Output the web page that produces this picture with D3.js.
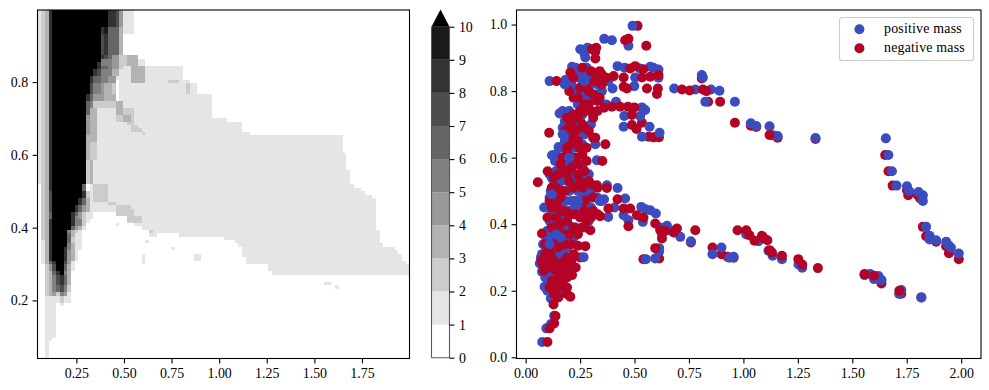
<!DOCTYPE html>
<html>
<head>
<meta charset="utf-8">
<script src="https://cdn.jsdelivr.net/npm/d3@7"></script>
<style>
  body { margin: 0; background: #fff; }
  text { font-family: "Liberation Serif", serif; fill: #000; }
</style>
</head>
<body>
<svg id="chart" width="989" height="390"></svg>
<script>
//colorbar steps, value band i..i+1 and the "over" colour at the end
const levelColors = ["#ffffff", "#e5e5e5", "#cccccc", "#b3b3b3", "#999999", "#808080", "#666666", "#4d4d4d", "#333333", "#1a1a1a", "#000000"];
const colorbarTicks = [0, 1, 2, 3, 4, 5, 6, 7, 8, 9, 10];
const heatXTicks = [0.25, 0.5, 0.75, 1, 1.25, 1.5, 1.75];
const heatYTicks = [0.2, 0.4, 0.6, 0.8];
const scatterXTicks = [0, 0.25, 0.5, 0.75, 1, 1.25, 1.5, 1.75, 2];
const scatterYTicks = [0, 0.2, 0.4, 0.6, 0.8, 1];
const legendLabels = ["positive mass", "negative mass"];

// heatmap rows from the top, 100 x 100 cells: [rows it repeats, level, cells, level, cells, ...]
const heatRuns = [
  [5, 1,1,2,1,3,1,8,1, 10,15, 8,2, 7,1, 4,1, 1,3],
  [2, 1,1,2,1,3,1,8,1, 10,13, 8,1, 9,1, 6,3, 3,1, 1,3],
  [6, 1,1,2,1,3,1,8,1, 10,13, 7,1, 8,1, 6,3, 3,1],
  [1, 1,1,2,1,3,1,8,1, 10,13, 8,1, 7,1, 6,1, 4,2, 2,2, 3,3],
  [1, 1,1,2,1,3,1,8,1, 10,13, 5,3, 4,2, 2,2, 3,3, 1,2],
  [1, 1,1,2,1,3,1,8,1, 10,12, 8,1, 5,3, 4,2, 2,2, 3,3, 1,2],
  [1, 1,1,2,1,3,1,8,1, 10,12, 8,1, 6,2, 5,1, 4,2, 2,1, 1,2, 3,4, 1,10],
  [2, 1,1,2,1,3,1,8,1, 10,11, 8,1, 7,1, 5,3, 3,2, 1,3, 3,4, 1,10],
  [1, 1,1,2,1,3,1,8,1, 10,10, 8,1, 6,2, 5,2, 4,2, 1,4, 3,4, 1,10],
  [1, 1,1,2,1,3,1,8,1, 10,10, 8,1, 6,2, 5,2, 4,2, 0,1, 1,3, 3,4, 1,6, 2,3, 1,3],
  [3, 1,1,2,1,3,1,8,1, 10,10, 7,1, 5,2, 4,1, 3,2, 2,1, 0,1, 1,18, 2,1, 1,2],
  [2, 1,1,2,1,3,1,8,1, 10,9, 8,1, 6,1, 4,3, 3,3, 0,1, 1,25],
  [2, 1,1,2,1,3,1,8,1, 10,9, 6,1, 5,1, 2,6, 3,2, 1,24],
  [2, 1,1,2,1,3,1,8,1, 10,9, 6,1, 3,2, 1,5, 3,2, 2,3, 1,21],
  [1, 1,1,2,1,3,1,8,1, 10,9, 4,1, 3,2, 1,5, 2,2, 3,2, 2,1, 1,21],
  [1, 1,1,2,1,3,1,8,1, 10,9, 4,1, 3,2, 1,5, 2,2, 3,2, 2,1, 1,25],
  [1, 1,1,2,1,3,1,8,1, 10,9, 4,1, 3,2, 1,8, 2,2, 1,29],
  [1, 1,1,2,1,3,1,8,1, 10,9, 4,1, 3,2, 1,9, 2,2, 1,28],
  [1, 1,1,2,1,3,1,8,1, 10,9, 4,1, 3,2, 1,9, 2,3, 1,27],
  [1, 1,1,2,1,3,1,8,1, 10,9, 4,1, 3,2, 1,12, 2,1, 1,28],
  [2, 1,1,2,1,3,1,8,1, 10,9, 3,1, 3,2, 1,66],
  [3, 1,1,2,1,3,1,8,1, 10,9, 3,1, 2,2, 1,66],
  [2, 1,1,2,1,3,1,8,1, 10,9, 3,1, 2,2, 1,67],
  [3, 1,1,2,1,3,1,8,1, 10,9, 2,1, 3,1, 1,68],
  [4, 1,1,2,1,3,1,8,1, 10,9, 2,1, 3,1, 1,69],
  [1, 0,1,2,1,3,1,8,1, 10,8, 6,1, 0,1, 1,1, 2,4, 1,66],
  [1, 0,1,2,1,3,1,8,1, 10,8, 6,1, 0,1, 1,1, 2,4, 1,68],
  [1, 0,1,2,1,3,1,7,1, 10,8, 8,1, 2,1, 1,1, 2,4, 1,69],
  [1, 0,1,2,1,3,1,7,1, 10,8, 8,1, 2,1, 1,1, 2,4, 1,71],
  [1, 0,1,2,1,3,1,7,1, 10,7, 8,1, 6,1, 3,1, 1,1, 2,4, 1,72],
  [1, 0,1,2,1,3,1,7,1, 10,7, 8,1, 6,1, 3,1, 1,5, 2,2, 1,70],
  [1, 0,1,2,1,3,1,7,1, 10,6, 8,1, 6,1, 4,1, 3,1, 1,7, 2,4, 1,66],
  [1, 0,1,2,1,3,1,7,1, 10,6, 8,1, 6,1, 4,1, 3,1, 1,7, 2,5, 1,65],
  [1, 0,1,2,1,3,1,6,1, 10,5, 8,1, 6,1, 4,1, 2,1, 1,2, 0,6, 2,5, 1,65],
  [1, 0,1,2,1,3,1,6,1, 10,5, 8,1, 5,1, 4,1, 2,1, 1,2, 0,9, 2,4, 1,63],
  [1, 0,1,2,1,3,1,8,1, 10,5, 8,1, 5,2, 2,1, 1,1, 0,10, 2,4, 1,63],
  [1, 0,1,2,1,3,1,8,1, 10,5, 8,1, 5,2, 2,1, 0,13, 1,65],
  [1, 0,1,2,1,3,1,8,1, 10,5, 6,1, 4,1, 3,1, 1,1, 0,15, 1,63],
  [1, 0,1,2,1,3,1,8,1, 10,4, 5,1, 3,1, 2,1, 1,1, 0,18, 1,62],
  [1, 0,1,2,1,3,1,8,1, 10,4, 6,1, 3,1, 1,2, 0,18, 1,2, 0,6, 1,54],
  [1, 0,1,2,1,3,1,8,1, 10,4, 6,1, 2,1, 1,2, 0,38, 1,42],
  [1, 0,1,1,1,3,1,8,1, 10,4, 6,1, 2,1, 1,2, 0,41, 1,39],
  [1, 0,1,1,1,3,1,8,1, 10,4, 5,1, 3,1, 1,2, 0,42, 1,39],
  [1, 0,1,1,1,3,1,8,1, 10,3, 8,1, 5,1, 3,1, 1,2, 0,43, 1,41],
  [1, 0,1,1,1,3,1,8,1, 10,3, 8,1, 4,1, 3,1, 1,1, 0,44, 1,42],
  [1, 0,1,1,1,3,1,8,1, 10,3, 8,1, 4,1, 3,1, 1,1, 0,44, 1,43],
  [1, 0,1,1,1,3,1,8,1, 10,3, 8,1, 4,1, 3,1, 1,1, 0,45, 1,42],
  [1, 0,1,1,1,3,1,6,1, 8,1, 10,2, 7,1, 4,1, 1,1, 0,46, 1,43],
  [2, 0,2,2,1,4,1,7,1, 10,2, 6,1, 3,1, 1,1, 0,52, 1,38],
  [1, 0,2,2,1,3,1,6,1, 8,1, 10,1, 5,1, 3,1, 0,54, 1,37],
  [3, 0,2,2,1,3,1,5,1, 7,1, 8,1, 6,1, 3,1],
  [2, 0,2,2,1,3,1,5,1, 6,1, 7,1, 5,1, 2,1],
  [1, 0,2,2,1,3,1,4,1, 2,1, 5,1, 4,1, 1,1],
  [2, 0,2,1,4,2,1,1,1,1,1],
  [1, 0,2,1,3,0,1,1,1],
  [9, 0,2,1,3],
  [1, 0,2,1,2],
  [5, 0,2,1,1]
];
// odd single spots in the heatmap: [row, column, cells, level]
const heatSpots = [[61,21,1,1],[63,30,1,2],[66,29,1,1],[68,36,1,1],[70,28,1,1],[71,28,1,1],[72,28,1,1],[70,42,2,1],[71,42,2,1],[78,77,2,1],[79,80,1,1]];

// scatter points, [x, y]. four lists because the colours overlap both ways
const negativeBack = [
  [.961,.705],[1.034,.696],[1.059,.692],[1.157,.66],[1.331,.656],[1.651,.608],[1.666,.559],[1.685,.516],[1.751,.502],[1.801,.487],[1.757,.487],[1.812,.477],
  [1.824,.392],[1.839,.364],[1.885,.347],[1.931,.334],[1.944,.313],[1.989,.295],[.955,.299],[1.725,.191],[1.817,.18],[1.634,.222],[1.62,.237],
  [.514,.996],[.809,.838],[.838,.768],[.893,.768],[.612,.661],[.587,.661],[.564,.663],[.509,.686],[.534,.705],[.613,.297],[.541,.295],[.759,.345],[.858,.33],[.899,.31],[.927,.302],
  [.22,.78],[.25,.8],[.29,.84],[.24,.7],[.19,.66],[.15,.47],[.12,.36],[.17,.29],[.23,.47],[.28,.49]
];
const positive = [
  [.961,.768],[1.034,.703],[1.059,.695],[1.12,.694],[1.135,.667],[1.157,.665],[1.331,.659],[1.654,.658],[1.666,.608],[1.682,.559],[1.703,.516],[1.751,.514],[1.761,.5],
  [1.804,.497],[1.824,.487],[1.824,.47],[1.839,.392],[1.855,.365],[1.855,.354],[1.885,.352],[1.931,.347],[1.942,.337],[1.953,.329],[1.989,.312],[.955,.302],
  [1.013,.369],[1.069,.349],[1.115,.32],[1.134,.305],[1.177,.295],[1.253,.279],[1.27,.269],[1.556,.247],[1.582,.25],[1.6,.235],[1.62,.244],[1.634,.232],[1.715,.19],[1.725,.202],[1.817,.18],
  [.491,.996],[.361,.957],[.396,.953],[.472,.936],[.251,.926],[.284,.93],[.27,.913],[.274,.901],[.213,.873],[.11,.83],[.182,.833],[.422,.875],[.455,.87],[.524,.868],[.572,.873],[.587,.87],[.61,.865],
  [.61,.84],[.503,.841],[.499,.815],[.399,.808],[.809,.848],[.814,.841],[.682,.808],[.779,.805],[.851,.805],[.89,.801],[.825,.768],[.37,.76],[.415,.768],[.534,.751],[.549,.743],[.453,.725],[.526,.725],[.45,.693],[.569,.693],[.534,.663],[.615,.675],
  [.156,.733],[.151,.632],[.121,.607],[.327,.592],[.32,.64],[.24,.86],[.28,.87],[.29,.83],[.25,.84],[.21,.82],[.23,.8],[.27,.8],[.3,.78],[.26,.77],[.24,.76],[.33,.85],[.35,.8],
  [.17,.74],[.2,.74],[.23,.72],[.19,.7],[.17,.69],[.21,.68],[.25,.71],[.18,.65],[.2,.62],[.16,.6],[.14,.61],[.18,.58],[.22,.64],[.27,.67],[.3,.7],[.24,.6],[.26,.57],[.2,.55],[.14,.56],[.12,.54],[.16,.53],[.22,.53],
  [.27,.52],[.3,.5],[.373,.517],[.422,.509],[.065,.282],[.075,.257],[.087,.212],[.07,.3],[.08,.27],[.09,.24],[.085,.31],[.095,.33],[.09,.29],[.1,.26],[.105,.225],[.1,.2],[.116,.177],[.125,.2],[.13,.23],[.115,.25],[.12,.28],[.11,.3],[.12,.33],[.105,.35],[.115,.37],
  [.13,.31],[.14,.27],[.15,.24],[.145,.2],[.155,.22],[.16,.26],[.15,.3],[.165,.33],[.14,.35],[.15,.38],[.13,.4],[.11,.41],[.085,.45],[.105,.45],[.12,.43],[.125,.47],[.115,.5],[.13,.52],[.14,.49],[.145,.44],[.155,.41],[.16,.46],[.17,.43],[.175,.39],[.18,.36],[.175,.31],
  [.185,.28],[.19,.33],[.195,.4],[.2,.44],[.185,.47],[.17,.5],[.2,.5],[.21,.47],[.22,.43],[.23,.39],[.25,.46],[.24,.5],[.28,.46],[.3,.45],[.33,.48],[.35,.47],[.131,.125],[.116,.1],[.095,.087],[.076,.046],
  [.379,.422],[.408,.45],[.457,.477],[.45,.427],[.472,.412],[.531,.452],[.572,.442],[.55,.445],[.538,.407],[.598,.432],[.618,.39],[.649,.395],[.626,.37],[.67,.38],[.71,.362],[.759,.349],[.858,.31],[.899,.33],[.935,.299],
  [.613,.328],[.613,.318],[.595,.297],[.552,.295],
  [.31,.85],[.27,.85],[.23,.87],[.3,.82],[.26,.82],[.22,.81],[.33,.82],[.36,.84],[.38,.83],[.28,.78],[.32,.79],[.25,.78],[.29,.74],[.26,.73],[.21,.72],[.18,.71],[.22,.69],[.24,.67],[.19,.67],[.2,.65],[.23,.63],[.26,.64],[.17,.63],[.16,.57],[.19,.59],[.22,.58],
  [.135,.59],[.11,.55],[.15,.52],[.19,.53],[.21,.51],[.25,.54],[.29,.55],[.26,.49],[.23,.45],[.26,.43],[.29,.41],[.31,.43],[.27,.39],[.21,.39],[.19,.37],[.22,.36],[.17,.35],[.125,.36],[.1,.38],[.13,.44],[.15,.46],[.11,.48],[.095,.36],[.08,.34],[.075,.31],[.14,.32],[.16,.31],[.12,.26],[.17,.27],[.13,.26],[.11,.23],[.135,.21],[.16,.19]
];
const negativeFront = [
  [1.12,.668],[.973,.382],[1.013,.382],[1.028,.367],[1.051,.35],[1.085,.365],[1.095,.358],[1.11,.352],[1.12,.322],[1.131,.315],[1.177,.305],[1.252,.295],[1.27,.279],[1.342,.268],[1.556,.25],[1.6,.245],[1.716,.2],
  [.457,.953],[.472,.957],[.554,.936],[.304,.926],[.324,.93],[.32,.918],[.32,.898],[.205,.856],[.142,.83],[.48,.868],[.503,.875],[.54,.866],[.61,.848],[.572,.843],[.534,.841],[.45,.841],[.404,.845],[.45,.813],[.465,.808],[.557,.808],[.607,.808],[.603,.791],
  [.718,.805],[.753,.802],[.814,.805],[.83,.8],[.396,.753],[.434,.753],[.47,.753],[.499,.751],[.488,.728],[.488,.698],
  [.056,.526],[.108,.675],[.101,.559],[.352,.59],[.366,.64],[.32,.66],
  [.3,.86],[.34,.86],[.37,.84],[.32,.83],[.28,.82],[.35,.82],[.31,.79],[.2,.8],[.22,.84],[.34,.78],[.29,.76],[.33,.74],[.36,.75],[.31,.72],[.27,.74],[.25,.74],[.22,.73],[.19,.72],[.2,.69],[.23,.68],[.26,.7],[.29,.68],[.24,.65],[.28,.63],[.31,.66],[.21,.64],[.19,.61],[.23,.6],[.26,.61],[.28,.59],[.21,.57],[.17,.6],[.18,.56],[.15,.55],[.24,.55],
  [.13,.54],[.14,.51],[.2,.53],[.25,.53],[.29,.53],[.33,.51],[.327,.517],[.373,.509],[.38,.447],[.422,.475],[.45,.447],[.48,.447],[.511,.427],[.541,.42],[.472,.394],[.342,.424],[.31,.44],[.27,.44],[.28,.41],[.297,.382],[.26,.39],[.25,.42],[.33,.43],
  [.075,.372],[.09,.34],[.105,.33],[.072,.29],[.083,.26],[.1,.3],[.13,.34],[.12,.39],[.14,.42],[.11,.47],[.14,.46],[.16,.48],[.18,.44],[.19,.41],[.17,.37],[.2,.37],[.21,.34],[.274,.334],[.24,.335],[.22,.31],[.25,.3],[.19,.3],[.16,.28],[.18,.26],[.2,.27],[.21,.25],[.17,.23],[.19,.21],[.205,.182],[.213,.247],[.15,.21],[.13,.19],[.128,.159],[.14,.26],[.12,.23],[.1,.27],[.11,.21],[.137,.124],[.131,.102],[.11,.087],[.1,.046],
  [.595,.402],[.618,.382],[.626,.357],[.64,.38],[.68,.375],[.695,.387],[.779,.382],[.595,.328],
  [.26,.87],[.32,.85],[.29,.8],[.25,.81],[.35,.85],[.24,.78],[.27,.76],[.33,.77],[.3,.74],[.24,.72],[.21,.7],[.27,.69],[.18,.68],[.22,.66],[.25,.63],[.19,.63],[.21,.6],[.16,.58],[.24,.58],[.27,.56],[.19,.55],[.22,.51],[.18,.5],[.16,.5],[.12,.51],
  [.3,.52],[.26,.51],[.31,.48],[.27,.47],[.3,.42],[.23,.43],[.21,.43],[.16,.44],[.12,.45],[.1,.42],[.14,.39],[.16,.4],[.22,.39],[.24,.37],[.18,.34],[.15,.33],[.115,.31],[.09,.31],[.08,.28],[.13,.29],[.15,.27],[.18,.29],[.21,.29],[.23,.27],[.12,.27],[.16,.24],[.19,.24],[.14,.23],[.17,.21],[.15,.18],[.19,.19]
];
const positiveFront = [
  [.266,.301],[.34,.47],[.36,.475],[.24,.47],[.2,.6],[.17,.67],[.14,.37],[.11,.34],[.16,.36],[.12,.49],[.18,.82],[.27,.83]
];

const svg = d3.select("#chart");

// left panel, heatmap
const heatX = d3.scaleLinear().domain([0.046, 1.9995]).range([37.5, 409.5]);
const heatY = d3.scaleLinear().domain([0.0404, 0.998]).range([358.5, 10]);
const colScale = d3.scaleLinear().domain([0, 100]).range(heatX.range());
const rowScale = d3.scaleLinear().domain([0, 100]).range([10, 358.5]);

let heatCells = [];
let rowIndex = 0;
heatRuns.forEach(function (run) {
  for (let repeat = 0; repeat < run[0]; repeat++) {
    let col = 0;
    for (let i = 1; i < run.length; i += 2) {
      if (run[i] > 0) heatCells.push({ row: rowIndex, col: col, cells: run[i + 1], level: run[i] });
      col += run[i + 1];
    }
    rowIndex++;
  }
});
heatSpots.forEach(function (s) {
  heatCells.push({ row: s[0], col: s[1], cells: s[2], level: s[3] });
});

svg.append("g").selectAll("rect")
  .data(heatCells)
  .join("rect")
  .attr("x", d => colScale(d.col))
  .attr("y", d => rowScale(d.row))
  .attr("width", d => colScale(d.col + d.cells) - colScale(d.col))
  .attr("height", d => rowScale(d.row + 1) - rowScale(d.row))
  .attr("fill", d => levelColors[d.level])
  .attr("shape-rendering", "crispEdges");

// colorbar
const barY = d3.scaleLinear().domain([0, 10]).range([357.7, 26.7]);
const barLeft = 431.5, barRight = 449.5;
svg.append("g").selectAll("rect")
  .data(levelColors.slice(0, 10))
  .join("rect")
  .attr("x", barLeft)
  .attr("width", barRight - barLeft)
  .attr("y", (d, i) => barY(i + 1))
  .attr("height", (d, i) => barY(i) - barY(i + 1))
  .attr("fill", d => d);
svg.append("path")
  .attr("d", `M${barLeft},${barY(10)}L${(barLeft + barRight) / 2},9.5L${barRight},${barY(10)}Z`)
  .attr("fill", levelColors[10]);
svg.append("path")
  .attr("d", `M${barLeft},${barY(10)}L${barLeft},${barY(0)}L${barRight},${barY(0)}L${barRight},${barY(10)}`)
  .attr("fill", "none")
  .attr("stroke", "#5a5a5a")
  .attr("stroke-width", 1.1);

// right panel, scatter
const scatterX = d3.scaleLinear().domain([-0.042, 2.091]).range([516.5, 981]);
const scatterY = d3.scaleLinear().domain([-0.0036, 1.0437]).range([358.5, 10]);

function drawPoints(points, color) {
  svg.append("g").selectAll("circle")
    .data(points)
    .join("circle")
    .attr("cx", d => scatterX(d[0]))
    .attr("cy", d => scatterY(d[1]))
    .attr("r", 5)
    .attr("fill", color);
}
const blue = "#3b4cc0", red = "#b40426";
drawPoints(negativeBack, red);
drawPoints(positive, blue);
drawPoints(negativeFront, red);
drawPoints(positiveFront, blue);

// axes, ticks out with matplotlib sizes
function styleAxis(g, fontSize) {
  g.select(".domain").remove();
  g.selectAll(".tick line").attr("stroke", "#000").attr("stroke-width", 1.1);
  g.selectAll(".tick text").attr("font-family", "Liberation Serif").attr("font-size", fontSize).attr("fill", "#000");
}
svg.append("g").attr("transform", "translate(0,358.5)")
  .call(d3.axisBottom(heatX).tickValues(heatXTicks).tickFormat(d3.format(".2f")).tickSize(4.9).tickPadding(4.5))
  .call(styleAxis, 13.9);
svg.append("g").attr("transform", "translate(37.5,0)")
  .call(d3.axisLeft(heatY).tickValues(heatYTicks).tickFormat(d3.format(".1f")).tickSize(4.9).tickPadding(4.5))
  .call(styleAxis, 13.9);
svg.append("g").attr("transform", `translate(${barRight},0)`)
  .call(d3.axisRight(barY).tickValues(colorbarTicks).tickFormat(d3.format("d")).tickSize(4.9).tickPadding(4.5))
  .call(styleAxis, 13.9);
svg.append("g").attr("transform", "translate(0,358.5)")
  .call(d3.axisBottom(scatterX).tickValues(scatterXTicks).tickFormat(d3.format(".2f")).tickSize(4.9).tickPadding(4.5))
  .call(styleAxis, 13.9);
svg.append("g").attr("transform", "translate(516.5,0)")
  .call(d3.axisLeft(scatterY).tickValues(scatterYTicks).tickFormat(d3.format(".1f")).tickSize(4.9).tickPadding(4.5))
  .call(styleAxis, 13.9);

// frames
svg.append("rect").attr("x", 37.5).attr("y", 10).attr("width", 372).attr("height", 348.5)
  .attr("fill", "none").attr("stroke", "#000").attr("stroke-width", 1.1);
svg.append("rect").attr("x", 516.5).attr("y", 10).attr("width", 464.5).attr("height", 348.5)
  .attr("fill", "none").attr("stroke", "#000").attr("stroke-width", 1.1);

// legend
const legend = svg.append("g");
legend.append("rect").attr("x", 839.5).attr("y", 17.5).attr("width", 134).attr("height", 43).attr("rx", 2.8)
  .attr("fill", "#fff").attr("fill-opacity", 0.8).attr("stroke", "#cccccc").attr("stroke-width", 1.1);
legendLabels.forEach(function (label, i) {
  const rowY = 29.3 + i * 19;
  legend.append("circle").attr("cx", 859.4).attr("cy", rowY).attr("r", 5).attr("fill", i == 0 ? blue : red);
  legend.append("text").attr("x", 884).attr("y", rowY + 3.6).attr("font-size", 13.9).attr("letter-spacing", 0.2).text(label);
});
</script>
</body>
</html>
